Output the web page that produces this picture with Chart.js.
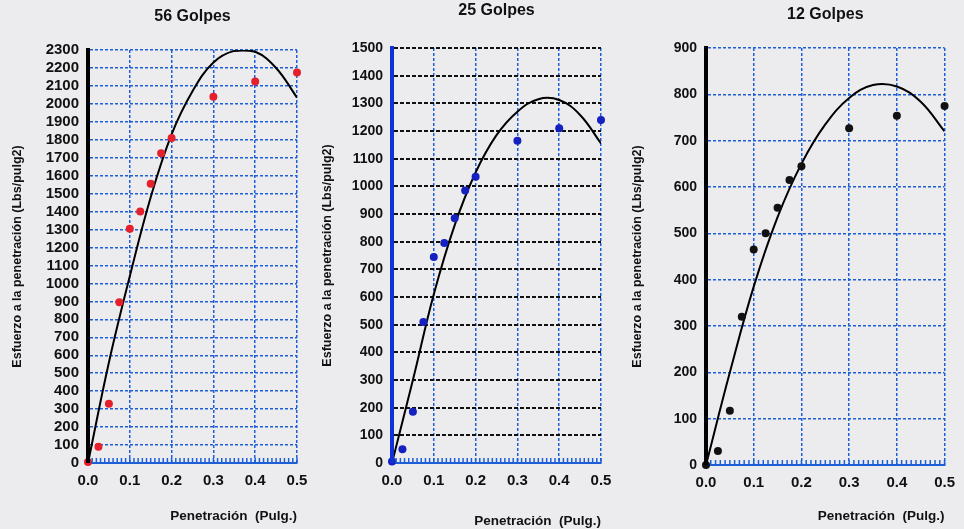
<!DOCTYPE html>
<html>
<head>
<meta charset="utf-8">
<script src="https://cdn.jsdelivr.net/npm/chart.js@4.4.1/dist/chart.umd.min.js"></script>
<style>
  body { margin: 0; background: #ececef; }
  .box { position: absolute; top: 0; height: 529px; }
</style>
</head>
<body>
<div class="box" style="left:0;width:320px"><canvas id="c56"></canvas></div>
<div class="box" style="left:310px;width:320px"><canvas id="c25"></canvas></div>
<div class="box" style="left:620px;width:344px"><canvas id="c12"></canvas></div>
<script>
// penetracion de los ensayos (pulg.)
const penetracion = [0, 0.025, 0.05, 0.075, 0.1, 0.125, 0.15, 0.175, 0.2, 0.3, 0.4, 0.5];
const golpes56 = [5, 90, 330, 895, 1305, 1400, 1555, 1725, 1810, 2040, 2125, 2175];
const golpes25 = [5, 50, 185, 510, 745, 795, 885, 985, 1035, 1165, 1210, 1240];
const golpes12 = [0, 30, 117, 320, 465, 500, 555, 615, 645, 727, 754, 775];

// linea de tendencia
const curvaX = [0, 0.05, 0.1, 0.15, 0.2, 0.25, 0.3, 0.35, 0.4, 0.45, 0.5];
const curva56 = [0, 560, 1040, 1480, 1830, 2070, 2230, 2295, 2290, 2200, 2035];
const curva25 = [0, 300, 610, 860, 1050, 1185, 1270, 1315, 1312, 1258, 1155];
const curva12 = [0, 200, 385, 535, 650, 735, 792, 820, 817, 784, 720];

const FONT = "Arial, 'Liberation Sans', sans-serif";
const BLUE = '#1e5fd8';

const minorTicks = {
  id: 'minorTicks',
  afterDatasetsDraw(chart) {
    const { ctx, scales: { x, y } } = chart;
    ctx.save();
    ctx.strokeStyle = BLUE;
    ctx.lineWidth = 1.5;
    const yb = y.getPixelForValue(0);
    for (let i = 0; i <= 50; i++) {
      const px = x.getPixelForValue(i / 100);
      ctx.beginPath();
      ctx.moveTo(px, yb);
      ctx.lineTo(px, yb - 5);
      ctx.stroke();
    }
    ctx.restore();
  }
};

function makeChart(id, o) {
  const pts = penetracion.map((p, i) => ({ x: p, y: o.data[i] }));
  const line = curvaX.map((p, i) => ({ x: p, y: o.curve[i] }));
  new Chart(document.getElementById(id), {
    type: 'scatter',
    data: {
      datasets: [
        {
          data: pts,
          backgroundColor: o.dot,
          borderWidth: 0,
          pointRadius: 4,
          clip: false
        },
        {
          data: line,
          showLine: true,
          borderColor: '#000',
          borderWidth: 2,
          pointRadius: 0,
          tension: 0.4
        }
      ]
    },
    options: {
      responsive: true,
      maintainAspectRatio: false,
      animation: false,
      events: [],
      layout: { padding: { left: 0, right: o.padRight, top: 0, bottom: 0 } },
      plugins: {
        legend: { display: false },
        tooltip: { enabled: false },
        title: {
          display: true,
          text: o.title,
          fullSize: false,
          color: '#111',
          font: { family: FONT, size: 16, weight: 'bold' },
          padding: { top: o.titleTop, bottom: o.titleBottom }
        }
      },
      scales: {
        x: {
          type: 'linear',
          min: 0,
          max: 0.5,
          afterFit: s => { s.height = o.xHeight; },
          ticks: {
            stepSize: 0.1,
            color: '#111',
            padding: 9,
            font: { family: FONT, size: 15, weight: 'bold' },
            callback: v => v.toFixed(1)
          },
          grid: { color: BLUE, lineWidth: 1.5, drawTicks: false },
          border: { color: BLUE, width: 2, dash: [3, 2] },
          title: {
            display: true,
            text: 'Penetración  (Pulg.)',
            align: 'end',
            color: '#111',
            font: { family: FONT, size: 13.5, weight: 'bold' },
            padding: { top: 0, bottom: o.xTitleBottom }
          }
        },
        y: {
          min: 0,
          max: o.max,
          afterFit: s => { s.width = o.yWidth; },
          ticks: {
            stepSize: 100,
            autoSkip: false,
            color: '#111',
            padding: 9,
            font: { family: FONT, size: o.yFont, weight: 'bold' },
            callback: v => String(v)
          },
          grid: { color: o.hGrid, lineWidth: o.hWidth, drawTicks: false },
          border: { color: o.axis, width: 4, dash: o.hDash },
          title: {
            display: true,
            text: 'Esfuerzo a la penetración (Lbs/pulg2)',
            color: '#111',
            font: { family: FONT, size: 12.5, weight: 'bold' },
            padding: { top: 10, bottom: 0 }
          }
        }
      }
    },
    plugins: [minorTicks, {
      id: 'axisLine',
      afterDatasetsDraw(chart) {
        const { ctx, chartArea: a } = chart;
        ctx.save();
        ctx.strokeStyle = o.axis;
        ctx.lineWidth = 4;
        ctx.beginPath();
        ctx.moveTo(a.left, a.top);
        ctx.lineTo(a.left, a.bottom);
        ctx.stroke();
        ctx.restore();
      }
    }]
  });
}

makeChart('c56', {
  title: '56 Golpes', data: golpes56, curve: curva56, max: 2300, dot: '#e4202c',
  axis: '#000', hGrid: BLUE, hWidth: 1.5, hDash: [3, 2], yFont: 15,
  yWidth: 88, padRight: 23, xHeight: 66, xTitleBottom: 5, titleTop: 7.4, titleBottom: 23.4
});
makeChart('c25', {
  title: '25 Golpes', data: golpes25, curve: curva25, max: 1500, dot: '#1420c0',
  axis: '#1030d8', hGrid: '#111', hWidth: 2, hDash: [4, 2], yFont: 14,
  yWidth: 82, padRight: 29, xHeight: 66, xTitleBottom: 0, titleTop: 1.4, titleBottom: 27.4
});
makeChart('c12', {
  title: '12 Golpes', data: golpes12, curve: curva12, max: 900, dot: '#111',
  axis: '#000', hGrid: BLUE, hWidth: 1.5, hDash: [3, 2], yFont: 14,
  yWidth: 86, padRight: 12, xHeight: 64, xTitleBottom: 5, titleTop: 5.4, titleBottom: 23.4
});
</script>
</body>
</html>
